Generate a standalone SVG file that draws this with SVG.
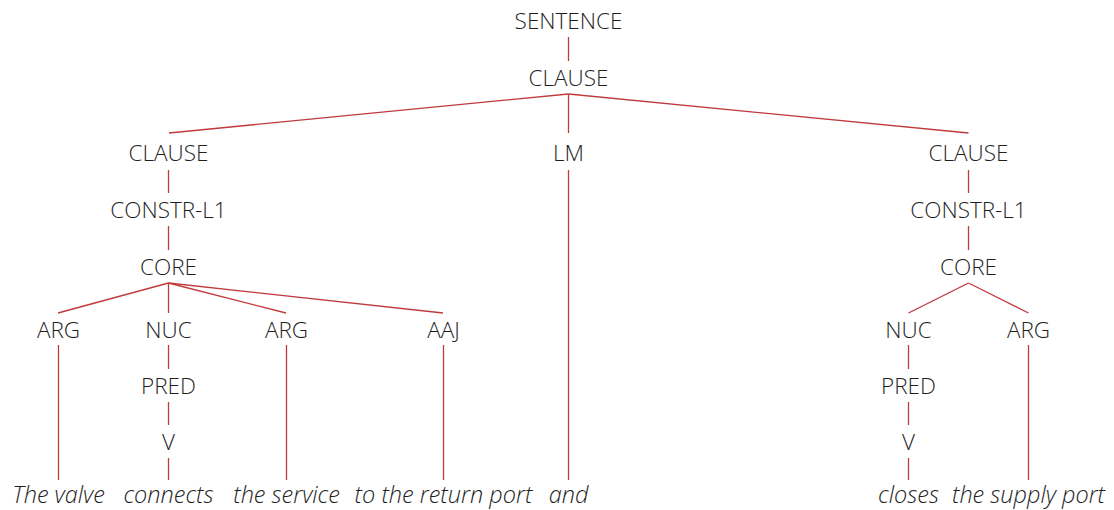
<svg xmlns="http://www.w3.org/2000/svg" width="1114" height="510" viewBox="0 0 1114 510">
<style>
.n{font-family:"Open Sans","Noto Sans",sans-serif;font-weight:300;font-size:22.5px;fill:#1e1e1e;text-anchor:middle}
.w{font-family:"Open Sans","Noto Sans",sans-serif;font-weight:300;font-style:italic;font-size:23.5px;fill:#1e1e1e;text-anchor:middle}
.e{stroke:#c0393b;stroke-width:1.3;fill:none}
</style>
<rect width="1114" height="510" fill="#fff"/>
<g id="edges" class="e">
<line x1="568.5" y1="37" x2="568.5" y2="61"/>
<line x1="568.5" y1="94" x2="169" y2="133"/>
<line x1="568.5" y1="94" x2="568.5" y2="133"/>
<line x1="568.5" y1="94" x2="968.5" y2="133"/>
<line x1="168.5" y1="170" x2="168.5" y2="193"/>
<line x1="168.5" y1="226" x2="168.5" y2="250"/>
<line x1="168.5" y1="283" x2="58" y2="313"/>
<line x1="168.5" y1="283" x2="168.5" y2="313"/>
<line x1="168.5" y1="283" x2="286" y2="313"/>
<line x1="168.5" y1="283" x2="443" y2="313"/>
<line x1="58.5" y1="345" x2="58.5" y2="480"/>
<line x1="168.5" y1="345" x2="168.5" y2="369"/>
<line x1="168.5" y1="402" x2="168.5" y2="425"/>
<line x1="168.5" y1="458" x2="168.5" y2="480"/>
<line x1="286.5" y1="345" x2="286.5" y2="480"/>
<line x1="443.5" y1="345" x2="443.5" y2="480"/>
<line x1="568.5" y1="170" x2="568.5" y2="480"/>
<line x1="968.5" y1="170" x2="968.5" y2="193"/>
<line x1="968.5" y1="226" x2="968.5" y2="250"/>
<line x1="968.5" y1="283" x2="908.5" y2="313"/>
<line x1="968.5" y1="283" x2="1028.5" y2="313"/>
<line x1="908.5" y1="345" x2="908.5" y2="369"/>
<line x1="908.5" y1="402" x2="908.5" y2="425"/>
<line x1="908.5" y1="458" x2="908.5" y2="480"/>
<line x1="1028.5" y1="345" x2="1028.5" y2="480"/>
</g>
<g id="sentence"><text class="n" x="568.5" y="29">SENTENCE</text></g>
<g id="clause0"><text class="n" x="568.5" y="86">CLAUSE</text></g>
<g id="clause1"><text class="n" x="168.5" y="161">CLAUSE</text></g>
<g id="lm"><text class="n" x="568.5" y="161">LM</text></g>
<g id="clause2"><text class="n" x="968.5" y="161">CLAUSE</text></g>
<g id="constr1"><text class="n" x="168.5" y="218">CONSTR-L1</text></g>
<g id="constr2"><text class="n" x="968.5" y="218">CONSTR-L1</text></g>
<g id="core1"><text class="n" x="168.5" y="275">CORE</text></g>
<g id="core2"><text class="n" x="968.5" y="275">CORE</text></g>
<g id="arg1"><text class="n" x="58.5" y="338">ARG</text></g>
<g id="nuc1"><text class="n" x="168.5" y="338">NUC</text></g>
<g id="arg2"><text class="n" x="286.5" y="338">ARG</text></g>
<g id="aaj"><text class="n" x="443.5" y="338">AAJ</text></g>
<g id="nuc2"><text class="n" x="908.5" y="338">NUC</text></g>
<g id="arg3"><text class="n" x="1028.5" y="338">ARG</text></g>
<g id="pred1"><text class="n" x="168.5" y="394">PRED</text></g>
<g id="pred2"><text class="n" x="908.5" y="394">PRED</text></g>
<g id="v1"><text class="n" x="168.5" y="450">V</text></g>
<g id="v2"><text class="n" x="908.5" y="450">V</text></g>
<g id="w1"><text class="w" x="58.5" y="503">The valve</text></g>
<g id="w2"><text class="w" x="168.5" y="503">connects</text></g>
<g id="w3"><text class="w" x="286.5" y="503">the service</text></g>
<g id="w4"><text class="w" x="443.5" y="503">to the return port</text></g>
<g id="w5"><text class="w" x="568.5" y="503">and</text></g>
<g id="w6"><text class="w" x="908.5" y="503">closes</text></g>
<g id="w7"><text class="w" x="1028.5" y="503">the supply port</text></g>
</svg>
